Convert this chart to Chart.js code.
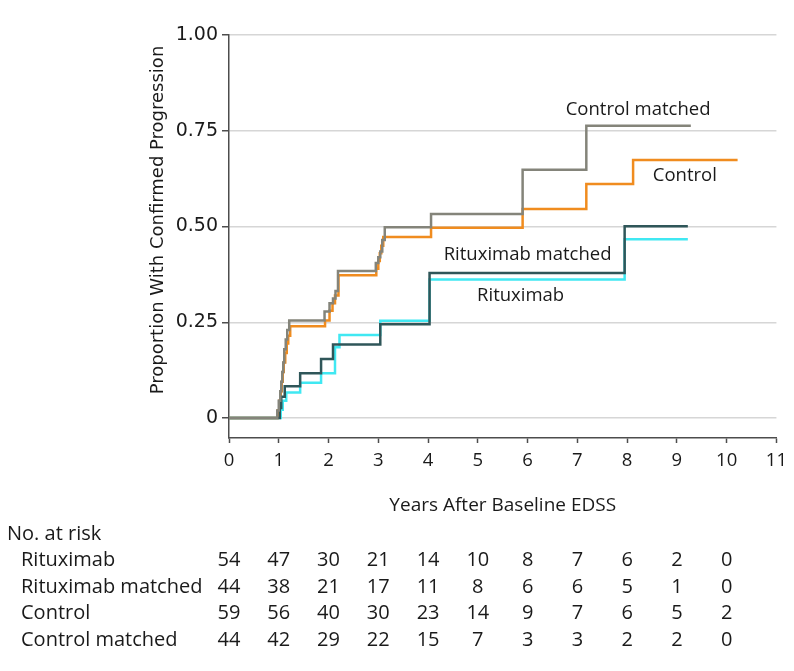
<!DOCTYPE html>
<html>
<head>
<meta charset="utf-8">
<title>Confirmed progression</title>
<script src="https://cdn.jsdelivr.net/npm/chart.js"></script>
<style>
  html, body { margin: 0; padding: 0; background: #fff; }
  canvas { display: block; }
</style>
</head>
<body>
<canvas id="km" width="794" height="671"></canvas>
<script>
// step curves (years, cumulative proportion)
const ctrlMatchedTimes = [0, 0.97, 1.0, 1.03, 1.05, 1.07, 1.09, 1.11, 1.14, 1.17, 1.21, 1.92, 2.02, 2.09, 2.14, 2.19, 2.95, 3.0, 3.04, 3.08, 3.13, 4.06, 5.9, 7.18, 9.28];
const ctrlMatchedProb  = [0, 0.02, 0.045, 0.07, 0.095, 0.12, 0.145, 0.18, 0.205, 0.23, 0.255, 0.278, 0.30, 0.312, 0.332, 0.384, 0.405, 0.42, 0.435, 0.465, 0.498, 0.533, 0.648, 0.763, 0.763];

const ctrlTimes = [0, 0.98, 1.01, 1.04, 1.06, 1.08, 1.1, 1.13, 1.16, 1.19, 1.23, 1.93, 2.02, 2.08, 2.13, 2.2, 2.96, 3.0, 3.03, 3.06, 3.1, 4.06, 5.9, 7.18, 8.12, 10.22];
const ctrlProb  = [0, 0.02, 0.045, 0.07, 0.095, 0.12, 0.145, 0.17, 0.195, 0.215, 0.24, 0.255, 0.28, 0.30, 0.32, 0.373, 0.39, 0.41, 0.43, 0.45, 0.473, 0.497, 0.546, 0.611, 0.674, 0.674];

const ritMatchedTimes = [0, 1.02, 1.05, 1.12, 1.43, 1.85, 2.09, 3.04, 4.03, 7.95, 9.22];
const ritMatchedProb  = [0, 0.026, 0.056, 0.083, 0.117, 0.154, 0.192, 0.245, 0.379, 0.501, 0.501];

const ritTimes = [0, 1.04, 1.08, 1.15, 1.43, 1.85, 2.13, 2.22, 3.04, 4.03, 7.95, 9.22];
const ritProb  = [0, 0.022, 0.045, 0.067, 0.092, 0.117, 0.185, 0.217, 0.254, 0.362, 0.467, 0.467];

// number at risk, one value per year 0..10
const riskYears = [0, 1, 2, 3, 4, 5, 6, 7, 8, 9, 10];
const riskRituximab = [54, 47, 30, 21, 14, 10, 8, 7, 6, 2, 0];
const riskRituximabMatched = [44, 38, 21, 17, 11, 8, 6, 6, 5, 1, 0];
const riskControl = [59, 56, 40, 30, 23, 14, 9, 7, 6, 5, 2];
const riskControlMatched = [44, 42, 29, 22, 15, 7, 3, 3, 2, 2, 0];

const yTicks = [0, 0.25, 0.5, 0.75, 1.0];

const toPoints = (xs, ys) => xs.map((x, i) => ({ x: x, y: ys[i] }));

const curveLabels = [
  { text: 'Control matched', x: 8.22, y: 0.804 },
  { text: 'Control', x: 9.16, y: 0.632 },
  { text: 'Rituximab matched', x: 6.0, y: 0.426 },
  { text: 'Rituximab', x: 5.86, y: 0.319 }
];

const riskRows = [
  { name: 'Rituximab', values: riskRituximab },
  { name: 'Rituximab matched', values: riskRituximabMatched },
  { name: 'Control', values: riskControl },
  { name: 'Control matched', values: riskControlMatched }
];

const yTitle = 'Proportion With Confirmed Progression';
const textColor = '#1a1a1a';
const axisColor = '#4d4d4d';

// curve labels, y title and the at-risk table, placed with the chart's own scales
const extrasPlugin = {
  id: 'extras',
  afterDraw(chart) {
    const ctx = chart.ctx;
    const xs = chart.scales.x;
    const ys = chart.scales.y;
    ctx.save();
    ctx.fillStyle = textColor;
    ctx.textAlign = 'center';
    ctx.textBaseline = 'middle';

    ctx.font = '18.5px "Open Sans", sans-serif';
    curveLabels.forEach(l => {
      ctx.fillText(l.text, xs.getPixelForValue(l.x), ys.getPixelForValue(l.y));
    });

    // rotated y title, sitting a bit above the plot's middle like the original
    ctx.save();
    ctx.translate(158, 220);
    ctx.rotate(-Math.PI / 2);
    ctx.font = '18px "DejaVu Sans", sans-serif';
    ctx.fillText(yTitle, 0, 0);
    ctx.restore();

    const top = 534;
    const rowGap = 26.5;
    ctx.font = '20px "Open Sans", sans-serif';
    ctx.textAlign = 'left';
    ctx.fillText('No. at risk', 7, top);
    riskRows.forEach((row, r) => {
      const y = top + rowGap * (r + 1);
      ctx.textAlign = 'left';
      ctx.fillText(row.name, 21, y);
      ctx.textAlign = 'center';
      row.values.forEach((v, i) => {
        ctx.fillText(String(v), xs.getPixelForValue(riskYears[i]), y);
      });
    });
    ctx.restore();
  }
};

new Chart(document.getElementById('km'), {
  type: 'line',
  data: {
    datasets: [
      { label: 'Control matched', data: toPoints(ctrlMatchedTimes, ctrlMatchedProb), borderColor: '#84847a' },
      { label: 'Rituximab matched', data: toPoints(ritMatchedTimes, ritMatchedProb), borderColor: '#2f5659' },
      { label: 'Control', data: toPoints(ctrlTimes, ctrlProb), borderColor: '#f08c1f' },
      { label: 'Rituximab', data: toPoints(ritTimes, ritProb), borderColor: '#40e8f2' }
    ]
  },
  options: {
    responsive: false,
    animation: false,
    datasets: {
      line: { stepped: true, borderWidth: 2.5, pointRadius: 0, fill: false }
    },
    layout: { padding: { left: 140, right: 15, top: 35, bottom: 154 } },
    plugins: {
      legend: { display: false },
      tooltip: { enabled: false }
    },
    scales: {
      x: {
        type: 'linear',
        min: 0,
        max: 11,
        afterFit: s => { s.height = 79; },
        ticks: { stepSize: 1, padding: 7, color: textColor, font: { family: '"Open Sans", sans-serif', size: 18.5 } },
        grid: { drawOnChartArea: false, tickLength: 5, tickColor: axisColor, tickWidth: 1.5 },
        border: { color: axisColor, width: 1.5 },
        title: {
          display: true,
          text: 'Years After Baseline EDSS',
          color: textColor,
          padding: { top: 0, bottom: 0 },
          font: { family: '"Open Sans", sans-serif', size: 19 }
        }
      },
      y: {
        min: -0.052,
        max: 1.0,
        afterFit: s => { s.width = 89; },
        afterBuildTicks: s => { s.ticks = yTicks.map(v => ({ value: v })); },
        ticks: {
          padding: 4,
          color: textColor,
          font: { family: '"DejaVu Sans", sans-serif', size: 19 },
          callback: v => (v === 0 ? '0' : v.toFixed(2))
        },
        grid: { color: '#d6d6d6', lineWidth: 1.5, tickLength: 7, tickColor: axisColor, tickWidth: 1.5 },
        border: { color: axisColor, width: 1.5 },
        title: { display: false }
      }
    }
  },
  plugins: [extrasPlugin]
});
</script>
</body>
</html>
